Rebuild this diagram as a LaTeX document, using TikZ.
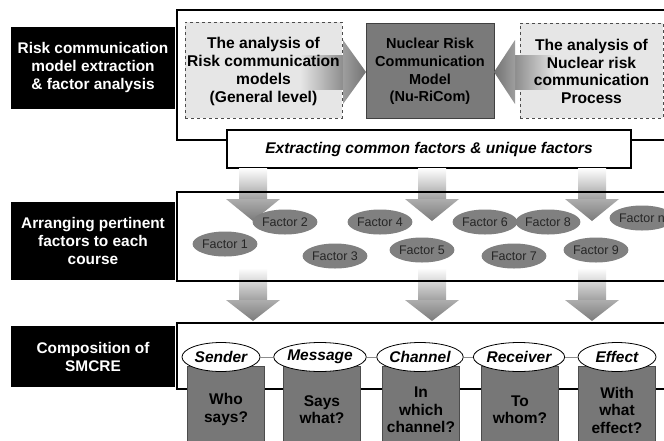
\documentclass[tikz,border=0pt]{standalone}
\usepackage{fontspec}
\setmainfont{Liberation Sans}
\usetikzlibrary{shapes.geometric}
\definecolor{dashfill}{HTML}{E6E6E6}
\definecolor{darkfill}{HTML}{7A7A7A}
\definecolor{factfill}{HTML}{808080}
\definecolor{rectfill}{HTML}{777777}
\begin{document}
\begin{tikzpicture}[x=1pt,y=-1pt,
  lbox/.style={fill=black, text=white, font=\bfseries\fontsize{15.4}{18}\selectfont, align=center, minimum width=164pt, inner sep=0pt},
  frame/.style={fill=white, minimum width=523pt, inner sep=0pt},
  frameline/.style={draw=black, line width=1.6pt},
  dashbox/.style={draw=black!70, dashed, line width=0.8pt, fill=dashfill, inner sep=0pt},
  darkbox/.style={draw=black!75, line width=0.8pt, fill=darkfill, inner sep=0pt},
  boxtxt/.style={font=\bfseries\fontsize{15.6}{17.7}\selectfont, align=center, inner sep=0pt},
  extbox/.style={draw=black, line width=1.6pt, fill=white, minimum width=404pt, minimum height=38pt, inner sep=0pt, font=\bfseries\itshape\fontsize{15.5}{17}\selectfont},
  factor/.style={ellipse, fill=factfill, minimum width=55pt, minimum height=25pt, inner sep=0pt, font=\fontsize{12.5}{14}\selectfont, text=black!85},
  smcre/.style={ellipse, draw=black, line width=0.8pt, fill=white, minimum width=78pt, minimum height=29pt, inner sep=0pt, font=\bfseries\itshape\fontsize{15.5}{17}\selectfont},
  qrect/.style={draw=black!70, line width=0.6pt, fill=rectfill, minimum width=77pt, minimum height=80pt, inner sep=0pt},
  qtxt/.style={font=\bfseries\fontsize{15.5}{17.5}\selectfont, align=center, inner sep=0pt},
  link/.style={draw=black!45, line width=0.8pt}
]
\useasboundingbox (0,0) rectangle (664,440);
\clip (0,0) rectangle (664,440);

% left labels
\node[lbox, minimum height=82pt] (l1) at (93,68) {Risk communication\\model extraction\\\& factor analysis};
\node[lbox, minimum height=78pt] (l2) at (93,241) {Arranging pertinent\\factors to each\\course};
\node[lbox, minimum height=61pt] (l3) at (93,356.5) {Composition of\\SMCRE};

% top frame
\node[frame, frameline, minimum height=130pt] (f1) at (438.5,75) {};
\node[dashbox, minimum width=157pt, minimum height=96pt] (a1) at (263.5,70) {};
\node[darkbox, minimum width=128pt, minimum height=95pt] (a2) at (430,70.5) {};
\node[dashbox, minimum width=143pt, minimum height=95pt] (a3) at (591.5,70.5) {};

% horizontal arrows
\shade[left color=dashfill, right color=black!45] (300,55) rectangle (343.5,89);
\shade[left color=black!38, right color=black!55] (343,40) -- (366,72) -- (343,104) -- cycle;
\shade[left color=black!45, right color=dashfill] (514.5,55) rectangle (556,89);
\shade[left color=black!55, right color=black!38] (515,40) -- (494,72) -- (515,104) -- cycle;

\node[boxtxt] at (263.5,71.5) {The analysis of\\Risk communication\\models\\(General level)};
\node[boxtxt, font=\bfseries\fontsize{14.5}{17.7}\selectfont] at (430,71.5) {Nuclear Risk\\Communication\\Model\\(Nu-RiCom)};
\node[boxtxt] at (591.5,71.5) {The analysis of\\Nuclear risk\\communication\\Process};

\node[extbox] (ext) at (429,149) {Extracting common factors \& unique factors};

% middle and bottom frames
\node[frame, minimum height=89pt] (f2) at (438.5,236.5) {};
\node[frame, minimum height=66pt] (f3) at (438.5,356) {};

% down arrows
\foreach \x in {253,432,592}{
  \shade[top color=white, bottom color=black!38] (\x-14,168) rectangle (\x+14,200);
  \shade[top color=black!32, bottom color=black!52] (\x-27,199) -- (\x+27,199) -- (\x,221) -- cycle;
  \shade[top color=white, bottom color=black!38] (\x-14,268) rectangle (\x+14,301);
  \shade[top color=black!32, bottom color=black!52] (\x-27,300) -- (\x+27,300) -- (\x,321) -- cycle;
}
\draw[frameline] (f2.south west) rectangle (f2.north east);
\draw[frameline] (f3.south west) rectangle (f3.north east);

% factors
\node[factor] (c1) at (225,244) {Factor 1};
\node[factor] (c2) at (285,222) {Factor 2};
\node[factor] (c3) at (335,256) {Factor 3};
\node[factor] (c4) at (380,222) {Factor 4};
\node[factor] (c5) at (422,250) {Factor 5};
\node[factor] (c6) at (485,222) {Factor 6};
\node[factor] (c7) at (514,256) {Factor 7};
\node[factor] (c8) at (548,222) {Factor 8};
\node[factor] (c9) at (596,250) {Factor 9};
\node[factor] (cn) at (642,218) {Factor n};

% SMCRE
\node[qrect, anchor=north] (r1) at (226,366) {};
\node[qrect, anchor=north] (r2) at (322,366) {};
\node[qrect, anchor=north] (r3) at (421,366) {};
\node[qrect, anchor=north] (r4) at (520,366) {};
\node[qrect, anchor=north] (r5) at (617,366) {};
\node[qtxt] at (226,409.5) {Who\\says?};
\node[qtxt] at (322,409.5) {Says\\what?};
\node[qtxt] at (421,410) {In\\which\\channel?};
\node[qtxt] at (520,409.5) {To\\whom?};
\node[qtxt] at (617,410) {With\\what\\effect?};

\node[smcre] (s1) at (221,357) {Sender};
\node[smcre] (s2) at (320,357) {Message};
\node[smcre] (s3) at (420,357) {Channel};
\node[smcre] (s4) at (519,357) {Receiver};
\node[smcre] (s5) at (617,357) {Effect};
\draw[link] (s1) -- (s2);
\draw[link] (s2) -- (s3);
\draw[link] (s3) -- (s4);
\draw[link] (s4) -- (s5);
\end{tikzpicture}
\end{document}
